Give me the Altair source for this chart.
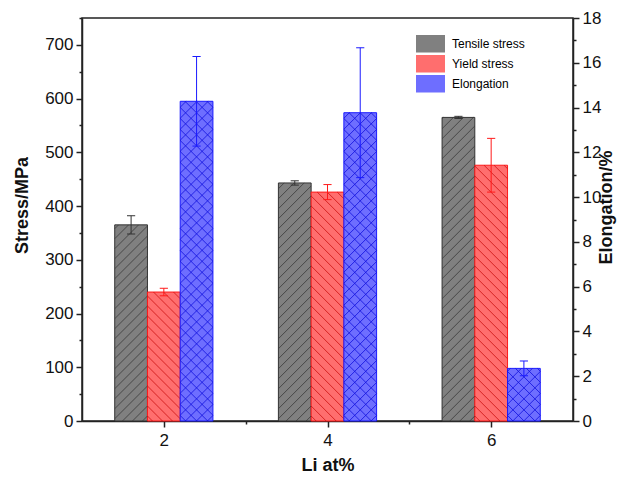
import altair as alt
import pandas as pd

# ---------------- data ----------------
li = [2, 4, 6]
series_names = ["Tensile stress", "Yield stress", "Elongation"]
tensile = [365, 443, 565]
tensile_err = [17, 4, 2]
yield_stress = [240, 426, 476]
yield_err = [7, 14, 50]
elongation = [14.28, 13.77, 2.35]
elongation_err = [2.0, 2.9, 0.33]

# ---------------- layout / style ----------------
W, H = 491, 403
X_DOM = [1, 7]
S_DOM = [0, 750]
E_DOM = [0, 18]
KX = W / (X_DOM[1] - X_DOM[0])
KS = H / (S_DOM[1] - S_DOM[0])
KE = H / (E_DOM[1] - E_DOM[0])
BAR = 0.4
OFFS = {"Tensile stress": -0.4, "Yield stress": 0.0, "Elongation": 0.4}
FILLS = ["#808080", "#ff6e6e", "#6e6eff"]
STROKES = ["#333333", "#ff1a1a", "#1a1aff"]
FONT = "Liberation Sans"

rows_s = []
for i, L in enumerate(li):
    rows_s.append(dict(Li=L, series="Tensile stress", value=tensile[i], err=tensile_err[i], off=OFFS["Tensile stress"]))
    rows_s.append(dict(Li=L, series="Yield stress", value=yield_stress[i], err=yield_err[i], off=OFFS["Yield stress"]))
rows_e = [dict(Li=L, series="Elongation", value=elongation[i], err=elongation_err[i], off=OFFS["Elongation"])
          for i, L in enumerate(li)]
df_s = pd.DataFrame(rows_s)
df_e = pd.DataFrame(rows_e)

x_scale = alt.Scale(domain=X_DOM, nice=False, zero=False)
x_axis = alt.Axis(
    values=[2, 3, 4, 5, 6],
    labelExpr="datum.value % 2 == 0 ? datum.label : ''",
    tickSize={"condition": {"test": "datum.value % 2 == 0", "value": 6}, "value": 3},
    title="Li at%", grid=False,
)
s_scale = alt.Scale(domain=S_DOM, nice=False)
s_axis = alt.Axis(
    values=list(range(0, 751, 50)),
    labelExpr="datum.value % 100 == 0 && datum.value < 750 ? datum.label : ''",
    tickSize={"condition": {"test": "datum.value % 100 == 0", "value": 6}, "value": 3},
    title="Stress/MPa", grid=False, orient="left",
    titleX=-60, titleY=187, titleAngle=270, titleAlign="center", titleBaseline="middle",
)
e_scale = alt.Scale(domain=E_DOM, nice=False)
e_axis = alt.Axis(
    values=list(range(0, 19)),
    labelExpr="datum.value % 2 == 0 ? datum.label : ''",
    tickSize={"condition": {"test": "datum.value % 2 == 0", "value": 6}, "value": 3},
    title="Elongation/%", grid=False, orient="right",
    titleX=33, titleY=189, titleAngle=270, titleAlign="center", titleBaseline="middle",
)

fill_enc = alt.Fill(
    "series:N",
    scale=alt.Scale(domain=series_names, range=FILLS),
    legend=alt.Legend(
        title=None, orient="none", legendX=334, legendY=16,
        symbolType="M-1,-0.6H1V0.6H-1Z", symbolSize=841, symbolStrokeWidth=0,
        symbolOpacity=1, labelFont=FONT, labelFontSize=12, labelColor="#000",
        labelOffset=7, rowPadding=0, padding=0, clipHeight=19.5,
    ),
)
stroke_enc = alt.Stroke("series:N", scale=alt.Scale(domain=series_names, range=STROKES), legend=None)


def base(df, k):
    return alt.Chart(df).transform_calculate(
        x0=f"datum.Li + datum.off - {BAR / 2}",
        x1=f"datum.Li + datum.off + {BAR / 2}",
        xc="datum.Li + datum.off",
        cl="datum.Li + datum.off - 0.05",
        cr="datum.Li + datum.off + 0.05",
        lo="datum.value - datum.err",
        hi="datum.value + datum.err",
        hp=f"datum.value * {k}",
    )


def bars(df, k, yscale, yaxis):
    return base(df, k).mark_bar(strokeWidth=1, opacity=1).encode(
        x=alt.X("x0:Q", scale=x_scale, axis=x_axis),
        x2="x1:Q",
        y=alt.Y("value:Q", scale=yscale, axis=yaxis),
        y2=alt.datum(0),
        fill=fill_enc,
        stroke=stroke_enc,
    )


def hatch(df, k, yscale, yaxis, series, direction, spacing, color):
    wp = BAR * KX
    if direction == "/":
        seq = f"sequence({-wp + spacing / 2}, datum.hp, {spacing})"
        us = "max(0, -datum.c)"
        ue = f"min({wp}, datum.hp - datum.c)"
        ya = f"(datum.us + datum.c) / {k}"
        yb = f"(datum.ue + datum.c) / {k}"
    else:
        seq = f"sequence({spacing / 2}, datum.hp + {wp}, {spacing})"
        us = "max(0, datum.c - datum.hp)"
        ue = f"min({wp}, datum.c)"
        ya = f"(datum.c - datum.us) / {k}"
        yb = f"(datum.c - datum.ue) / {k}"
    return (
        base(df, k)
        .transform_filter(alt.datum.series == series)
        .transform_calculate(cs=seq)
        .transform_flatten(["cs"], as_=["c"])
        .transform_calculate(us=us, ue=ue)
        .transform_filter("datum.ue > datum.us + 0.3")
        .transform_calculate(
            xa=f"datum.x0 + datum.us / {KX}",
            xb=f"datum.x0 + datum.ue / {KX}",
            ya=ya, yb=yb,
        )
        .mark_rule(color=color, strokeWidth=1, opacity=0.8)
        .encode(
            x=alt.X("xa:Q", scale=x_scale, axis=x_axis),
            x2="xb:Q",
            y=alt.Y("ya:Q", scale=yscale, axis=yaxis),
            y2="yb:Q",
        )
    )


def errs(df, k, yscale, yaxis):
    b = base(df, k)
    vline = b.mark_rule(strokeWidth=1).encode(
        x=alt.X("xc:Q", scale=x_scale, axis=x_axis),
        y=alt.Y("lo:Q", scale=yscale, axis=yaxis),
        y2="hi:Q",
        stroke=stroke_enc,
    )
    cap_hi = b.mark_rule(strokeWidth=1).encode(
        x=alt.X("cl:Q", scale=x_scale, axis=x_axis),
        x2="cr:Q",
        y=alt.Y("hi:Q", scale=yscale, axis=yaxis),
        stroke=stroke_enc,
    )
    cap_lo = b.mark_rule(strokeWidth=1).encode(
        x=alt.X("cl:Q", scale=x_scale, axis=x_axis),
        x2="cr:Q",
        y=alt.Y("lo:Q", scale=yscale, axis=yaxis),
        stroke=stroke_enc,
    )
    return [vline, cap_hi, cap_lo]


stress_layer = alt.layer(
    bars(df_s, KS, s_scale, s_axis),
    hatch(df_s, KS, s_scale, s_axis, "Tensile stress", "/", 10, "#3a3a3a"),
    hatch(df_s, KS, s_scale, s_axis, "Yield stress", "\\", 10, "#cc1111"),
    *errs(df_s, KS, s_scale, s_axis),
)
elong_layer = alt.layer(
    bars(df_e, KE, e_scale, e_axis),
    hatch(df_e, KE, e_scale, e_axis, "Elongation", "/", 11, "#1010dd"),
    hatch(df_e, KE, e_scale, e_axis, "Elongation", "\\", 11, "#1010dd"),
    *errs(df_e, KE, e_scale, e_axis),
)

chart = (
    alt.layer(stress_layer, elong_layer)
    .resolve_scale(y="independent")
    .properties(
        width=W, height=H,
        padding={"left": 82, "top": 18, "right": 53, "bottom": 57},
        autosize="none",
    )
    .configure_view(stroke="#222222", strokeWidth=1.5)
    .configure_axis(
        domainColor="#222222", domainWidth=1.5, tickColor="#222222", tickWidth=1.5,
        labelFont=FONT, labelFontSize=17, labelColor="#111111", labelPadding=3,
        titleFont=FONT, titleFontSize=18, titleFontWeight="bold", titleColor="#111111",
    )
    .configure_axisX(titlePadding=8, labelPadding=5)
)

chart.save("out.html", embed_options={"renderer": "svg", "actions": False})
